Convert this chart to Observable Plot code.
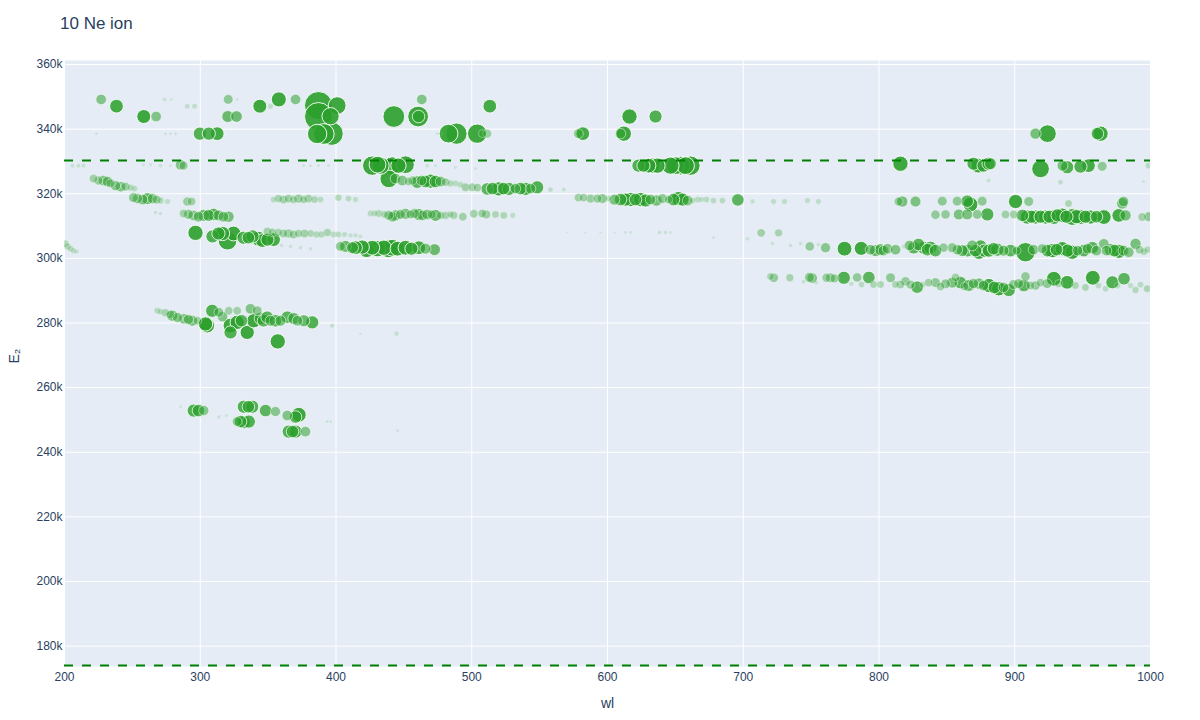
<!DOCTYPE html>
<html>
<head>
<meta charset="utf-8">
<script src="https://cdn.jsdelivr.net/npm/d3@7"></script>
<script src="https://cdn.jsdelivr.net/npm/@observablehq/plot@0.6"></script>
<style>
  body { margin: 0; background: #fff; font-family: "Liberation Sans", Arial, sans-serif; }
  #wrap { width: 1200px; }
  #title { height: 40px; box-sizing: border-box; padding: 14px 0 0 60px; font-size: 17px; color: #2a3f5f; line-height: 20px; }
</style>
</head>
<body>
<div id="wrap">
  <div id="title">10 Ne ion</div>
  <div id="chart"></div>
</div>
<script>
// Each entry: [wavelength (nm), upper level energy E2 (cm^-1), relative line strength]
const bandTop = [
  [227.0,349200,14],[238.3,347100,24],[258.4,343900,25],[267.5,343900,14],[273.7,349200,2.4],[278.6,349200,1.5],
  [290.4,347100,3.5],[295.8,347100,3.5],[320.6,349200,12],[327.2,349200,1.5],[320.3,343900,18],[326.7,343900,17],
  [343.9,347100,25],[351.8,347100,4],[357.9,349200,29],[370.2,349200,14],[387.1,347300,100],[387.1,343900,100],
  [400.9,347300,40],[396.0,344000,38],[386.1,338500,48],[391.0,338500,55],[396.7,338600,70],[442.6,343900,60],
  [460.5,343900,55],[460.8,343900,20],[463.2,349200,14],[513.3,347100,24],
  [299.7,338600,22],[306.3,338600,22],[312.5,338600,24],[223.6,338600,1.5],[274.4,338600,1.5],[278.1,338600,1.3],[281.8,338600,1.3],
  [482.9,338600,45],[488.7,338600,58],[504.0,338600,48],[507.9,338600,8],[511.4,338600,10],[474.5,338600,1.5],[477.0,338600,1.5],
  [578.6,338600,12],[581.8,338600,24],[609.6,338600,14],[612.0,338600,30],[616.2,343900,30],[635.4,343900,22],
  [915.3,338600,16],[924.1,338600,40],[960.9,338600,20],[963.2,338600,30]
];
const band329 = [
  [205.9,328700,2.5],[210.3,328700,2.5],[214.0,328700,2.5],[258.2,329000,1.5],[263.4,329000,1.5],[270.7,328700,2],[278.1,328700,1.5],
  [285.5,329000,14],[287.7,328700,10],[376.1,328700,1.5],[381.2,328700,1.5],[387.1,328700,1.5],[394.5,328700,1.5],
  [426.7,328700,48],[430.6,329000,36],[432.8,328700,38],[441.4,328700,40],[446.0,328700,30],[451.2,329000,40],[438.9,324600,40],
  [467.2,328700,2],[473.3,328700,1.5],[488.0,328100,1.5],[502.8,327800,1.5],
  [622.8,328700,22],[626.5,328700,22],[630.2,328700,28],[633.1,328700,30],[636.8,328700,30],[646.4,328700,38],[650.1,328700,40],
  [653.8,328700,45],[657.5,328700,40],[661.1,328700,48],
  [815.8,329300,30],[869.6,329300,22],[873.3,328700,28],[877.0,328700,22],[880.7,329300,22],[882.1,329300,18],
  [919.0,327700,40],[935.2,328700,15],[938.6,328200,22],[948.4,328400,22],[954.3,328700,24],[964.4,328500,12],
  [933.7,323600,3.5],[880.7,324100,2.5],[994.8,323800,1.5],[998.5,328700,5]
];
const band320 = [
  [221.4,324700,9],[225.0,324100,10],[228.7,324100,14],[231.7,323800,14],[233.9,323200,10],[237.6,322500,13],[241.3,322200,14],
  [244.9,322200,10],[248.6,321900,6],[251.6,321600,5],
  [250.8,318800,12],[253.8,318500,13],[257.5,318200,14],[261.1,318500,18],[264.8,318500,13],[267.8,318200,10],[270.7,317900,6],
  [275.9,317600,4],[290.4,317600,10],[293.6,317600,9],
  [443.8,324700,14],[448.8,324100,14],[453.4,323800,9],[456.4,324100,10],[459.8,323600,20],[463.0,324100,14],[465.9,323800,20],
  [469.6,323900,26],[473.3,323800,20],[477.0,323800,14],[480.7,323600,9],[484.3,323200,6],[488.0,323200,5],[491.7,322800,5],
  [495.4,322000,9],[500.3,322000,9],[504.2,321900,9],[511.4,321500,20],[515.3,321600,20],[519.9,321500,26],[523.4,321600,20],
  [527.3,321500,22],[532.2,321600,14],[535.9,321600,20],[539.6,321500,22],[543.3,321600,14],[548.2,322000,22],[558.0,321300,3.5],[567.8,321300,2.5],
  [354.0,318200,5],[357.6,318500,8],[361.3,318200,9],[365.0,318500,9],[368.7,318200,8],[372.4,318500,10],[376.1,318200,8],
  [379.7,318500,9],[384.2,318200,7],[388.6,318200,5],[401.8,318800,6],[409.2,318500,5],[414.4,318200,4],
  [578.6,318800,9],[582.3,318800,9],[587.5,318500,10],[592.6,318500,10],[596.3,318500,12],[600.7,318500,5],[605.1,318200,15],
  [609.6,318200,20],[613.3,318200,22],[616.9,318200,26],[620.6,318200,20],[624.3,318200,26],[628.0,317900,22],[631.7,318200,14],
  [636.1,317900,16],[640.5,318500,12],[645.0,318200,9],[648.6,318200,20],[652.3,318500,26],[655.3,318200,22],[659.0,317900,14],
  [662.6,317900,5],[666.3,318200,5],[669.2,318200,4],[672.9,318200,5],[678.1,317900,5],[684.7,317900,5],[696.0,318100,20],
  [706.8,317600,3],[722.3,317600,4],[730.4,317600,4],[747.3,317900,4],[755.4,317600,4],
  [814.4,317600,10],[817.1,317600,16],[826.9,317600,15],[846.6,317700,12],[857.6,317700,12],[865.0,317700,20],[867.4,316700,28],
  [876.0,317700,12],[900.6,317600,26],[910.3,317600,12],[939.6,317000,7],[979.2,317000,16],[980.1,317600,14]
];
const band313 = [
  [267.0,314200,2],[270.7,313900,2],[287.7,313900,9],[291.3,313600,12],[295.0,313300,14],[298.7,312900,14],[302.4,313300,18],
  [306.1,313300,18],[309.8,313600,20],[313.4,313300,15],[317.1,312900,14],[320.8,312900,16],
  [425.4,313900,5],[428.4,313900,5],[431.5,313900,7],[435.7,313600,7],[438.9,313300,12],[441.6,312900,14],[443.8,313300,16],
  [447.5,313600,12],[451.2,313800,15],[454.9,313600,10],[457.8,313900,12],[461.0,313600,18],[463.7,313300,14],[467.2,313600,14],
  [470.4,313600,10],[473.3,313300,18],[477.0,313300,8],[480.7,313300,8],[484.3,313600,6],[486.8,313300,8],[493.4,312900,9],
  [501.5,313800,9],[507.7,313900,9],[510.6,313600,10],[517.5,313600,7],[523.6,313300,7],[530.2,313300,4],
  [841.6,313500,11],[849.0,313600,11],[858.8,313600,15],[865.0,313600,15],[872.4,313600,12],[879.8,313600,22],[893.2,313600,9],
  [899.3,313600,9],[905.7,313300,20],[909.2,312800,26],[912.3,312900,22],[915.3,312800,26],[919.0,312900,22],[922.7,312800,26],
  [925.6,312900,22],[928.8,312800,28],[931.5,313300,22],[935.0,313300,28],[938.1,312900,22],[942.3,312800,36],[945.5,312900,26],
  [948.4,312800,28],[952.1,312900,22],[955.8,312800,26],[960.2,312900,20],[965.6,312800,28],[976.6,313300,24],[981.6,313300,16],
  [993.9,312800,9],[998.8,312900,12]
];
const band306 = [
  [296.5,307900,30],[309.0,306800,22],[313.4,307700,22],[316.4,307700,26],[320.1,305500,45],[324.5,307700,28],[331.9,306400,22],
  [335.5,306400,20],[338.5,306800,22],[342.9,306100,28],[345.8,305500,24],[349.5,305800,22],[354.0,305800,24],
  [349.5,308300,9],[353.2,308000,9],[357.6,308000,8],[361.3,307700,9],[365.0,307700,10],[368.7,307400,9],[372.4,307700,8],
  [376.8,307700,9],[381.2,307700,7],[385.6,307400,6],[389.3,307400,6],[393.7,308000,8],[398.2,307400,5],[401.8,307400,5],
  [406.3,307400,4],[410.7,307100,3],[414.4,307100,3],[418.0,306800,2.5],
  [359.9,304000,2],[366.5,303700,2],[373.8,303300,2],[381.2,303000,2],
  [570.5,308000,1],[583.8,308000,1],[594.8,308000,1],[605.1,308000,1],[613.3,308000,1.5],[617.0,308000,1.5],[638.3,308000,2],
  [642.7,308000,2],[646.4,308000,1.5],[678.1,306400,1.5],[703.1,306100,2],[713.2,307900,9],[726.0,307900,8],[721.5,304600,2],
  [734.8,304000,2],[742.2,304600,2],[755.4,304300,2],
  [200.7,304600,6],[202.2,303700,6],[204.4,303000,5],[206.6,302400,4],[208.8,302100,3]
];
const band303 = [
  [403.3,303700,12],[407.0,303700,18],[412.2,303300,18],[414.4,303300,24],[419.3,303500,26],[422.5,302700,32],[426.7,303300,28],
  [430.6,303000,34],[435.2,303300,30],[438.7,303000,42],[441.4,303300,36],[445.3,303000,28],[451.2,303300,28],[455.6,303000,22],
  [461.0,303300,24],[465.9,303000,15],[472.6,302700,18],
  [749.0,303700,11],[760.6,303300,13],[774.6,303000,28],[786.9,303100,25],[793.7,302700,14],[797.4,302400,18],[801.1,302700,18],
  [803.3,302400,14],[806.3,303000,14],[812.2,302700,14],[818.1,303700,2.5],[822.5,304000,14],[825.6,303300,20],[829.1,304300,20],
  [833.0,303300,22],[835.8,302700,20],[837.9,303300,22],[841.6,302400,20],[847.5,303300,11],[853.9,303300,12],[857.8,302700,14],
  [861.3,302400,18],[865.2,302400,20],[868.7,304000,15],[871.1,302400,20],[873.6,301900,26],[874.8,303700,22],[877.7,302400,22],
  [880.9,302400,22],[884.4,303000,20],[887.1,302700,22],[891.7,302400,15],[896.9,302400,20],[901.3,302400,10],[907.9,301900,48],
  [913.8,302700,14],[920.2,303000,12],[924.1,302400,20],[927.6,302400,26],[930.8,302700,20],[935.0,303000,26],[938.9,302400,22],
  [942.3,301900,26],[946.3,302400,14],[950.9,302400,20],[953.6,303000,14],[957.1,303300,20],[960.2,302400,14],[965.6,304500,14],
  [967.6,302400,14],[970.5,302700,20],[973.5,302400,20],[976.6,302200,26],[980.1,302400,15],[984.0,301900,14],[989.0,304500,16],
  [991.9,302700,9],[995.1,302100,7],[997.8,302700,6]
];
const band292 = [
  [720.1,294400,7],[722.5,294000,11],[734.3,294000,8],[744.4,292800,2.5],[748.8,294100,12],[750.8,293900,14],[753.9,292500,2.5],
  [761.3,294000,10],[764.3,294000,12],[767.2,293800,10],[774.1,294000,22],[779.7,292100,3],[783.9,294100,11],[787.1,291900,5],
  [792.5,294100,20],[796.0,291900,7],[801.1,291900,7],[808.5,294000,12],[812.2,291900,7],[815.8,291900,9],[819.5,292900,11],
  [823.2,291900,10],[828.1,291100,20],[832.1,291900,5],[836.5,292500,9],[841.6,292500,12],[845.3,291300,9],[849.0,292100,12],
  [853.9,292500,15],[856.4,294100,9],[860.0,292500,20],[863.0,291300,9],[866.2,291600,18],[869.6,292200,13],[873.6,292200,16],
  [877.0,291600,14],[880.9,291600,26],[885.0,291000,20],[888.2,290600,26],[891.7,291000,14],[895.6,290200,22],[899.1,291900,12],
  [902.8,292200,12],[906.7,291600,20],[907.9,294400,11],[911.6,291600,9],[915.3,291600,11],[919.0,292500,9],[923.9,292200,12],
  [928.8,293700,28],[932.3,292200,8],[938.6,292600,24],[944.7,291600,7],[952.1,291000,7],[957.5,294000,28],[961.7,291600,5],
  [966.9,290600,5],[971.9,292600,22],[975.7,291600,5],[980.5,293700,20],[985.3,291600,4],[989.0,290200,6],[992.6,291900,5],
  [997.5,290600,7]
];
const band282 = [
  [268.3,283800,5],[270.7,283500,5],[274.4,283200,8],[278.1,282600,9],[279.3,282300,16],[283.2,281700,13],[287.9,281300,14],
  [291.3,281100,13],[294.1,280700,15],[298.0,280700,9],[303.9,279700,26],[305.1,279200,28],[308.8,283800,22],[313.7,283300,12],
  [316.4,282000,14],[321.0,283800,9],[322.3,279200,28],[322.3,277100,22],[327.2,283800,9],[327.2,280200,26],[330.4,280700,20],
  [334.6,277100,26],[337.0,284400,14],[339.4,280700,26],[341.9,283800,12],[344.4,281400,20],[346.6,280700,20],[349.3,281800,20],
  [351.8,280700,15],[355.4,280700,20],[359.1,280700,15],[364.1,281800,20],[368.9,281400,18],[371.6,280700,14],[376.3,280700,18],
  [382.5,280200,22],[397.2,279200,3],[444.6,276700,3],[418.0,276700,1.2],[357.1,274300,30]
];
const band252 = [
  [295.2,252900,22],[298.7,252900,20],[302.6,252900,13],[285.5,254000,1.5],[313.7,250900,2],[319.3,251400,1.5],[327.2,249500,12],
  [329.7,249500,20],[332.1,249300,22],[335.8,249500,22],[332.1,254100,22],[335.5,254100,20],[338.3,254100,22],[348.1,252900,20],
  [355.4,252600,13],[364.1,251400,14],[370.2,250900,20],[372.6,251600,28],[365.2,246400,22],[368.0,246400,20],[370.2,246400,22],
  [377.5,246400,14],[393.5,249500,1.5],[396.0,249500,1.3],[445.3,246700,1.5]
];
// Horizontal reference levels (cm^-1)
const limits = [330300, 174000];
const xTicks = [200, 300, 400, 500, 600, 700, 800, 900, 1000];
const yTicks = [180000, 200000, 220000, 240000, 260000, 280000, 300000, 320000, 340000, 360000];

const points = [bandTop, band329, band320, band313, band306, band303, band292, band282, band252]
  .flat()
  .map(([wl, E2, s]) => ({wl, E2, s}));

const chart = Plot.plot({
  width: 1200,
  height: 680,
  marginTop: 20,
  marginLeft: 64,
  marginRight: 50,
  marginBottom: 54,
  style: {fontFamily: '"Liberation Sans", Arial, sans-serif', fontSize: "12px", color: "#2a3f5f", background: "white", overflow: "visible"},
  x: {domain: [200, 1000]},
  y: {domain: [173700, 361240]},
  r: {type: "sqrt", domain: [0, 100], range: [0, 14]},
  opacity: {type: "linear", domain: [0, 25], range: [0.08, 0.9], clamp: true},
  marks: [
    Plot.frame({fill: "#e5ecf6"}),
    Plot.gridX(xTicks, {stroke: "white", strokeOpacity: 1, strokeWidth: 1}),
    Plot.gridY(yTicks, {stroke: "white", strokeOpacity: 1, strokeWidth: 1}),
    Plot.axisX(xTicks, {tickSize: 0, tickPadding: 6, label: null, tickFormat: d => String(d), fill: "#2a3f5f"}),
    Plot.axisY(yTicks, {tickSize: 0, tickPadding: 2, label: null, tickFormat: d => d / 1000 + "k", fill: "#2a3f5f"}),
    Plot.dot(points, {x: "wl", y: "E2", r: "s", fill: "#2ca02c", fillOpacity: "s", stroke: "white", strokeOpacity: "s", strokeWidth: 1, clip: true}),
    Plot.ruleY(limits, {stroke: "green", strokeWidth: 2, strokeDasharray: "9,9"}),
    Plot.text(["wl"], {frameAnchor: "bottom", dy: 41, fontSize: 14, fill: "#2a3f5f"}),
    Plot.text(["E₂"], {frameAnchor: "left", dx: -50, rotate: -90, fontSize: 14, fill: "#2a3f5f"})
  ]
});
document.getElementById("chart").appendChild(chart);
</script>
</body>
</html>
